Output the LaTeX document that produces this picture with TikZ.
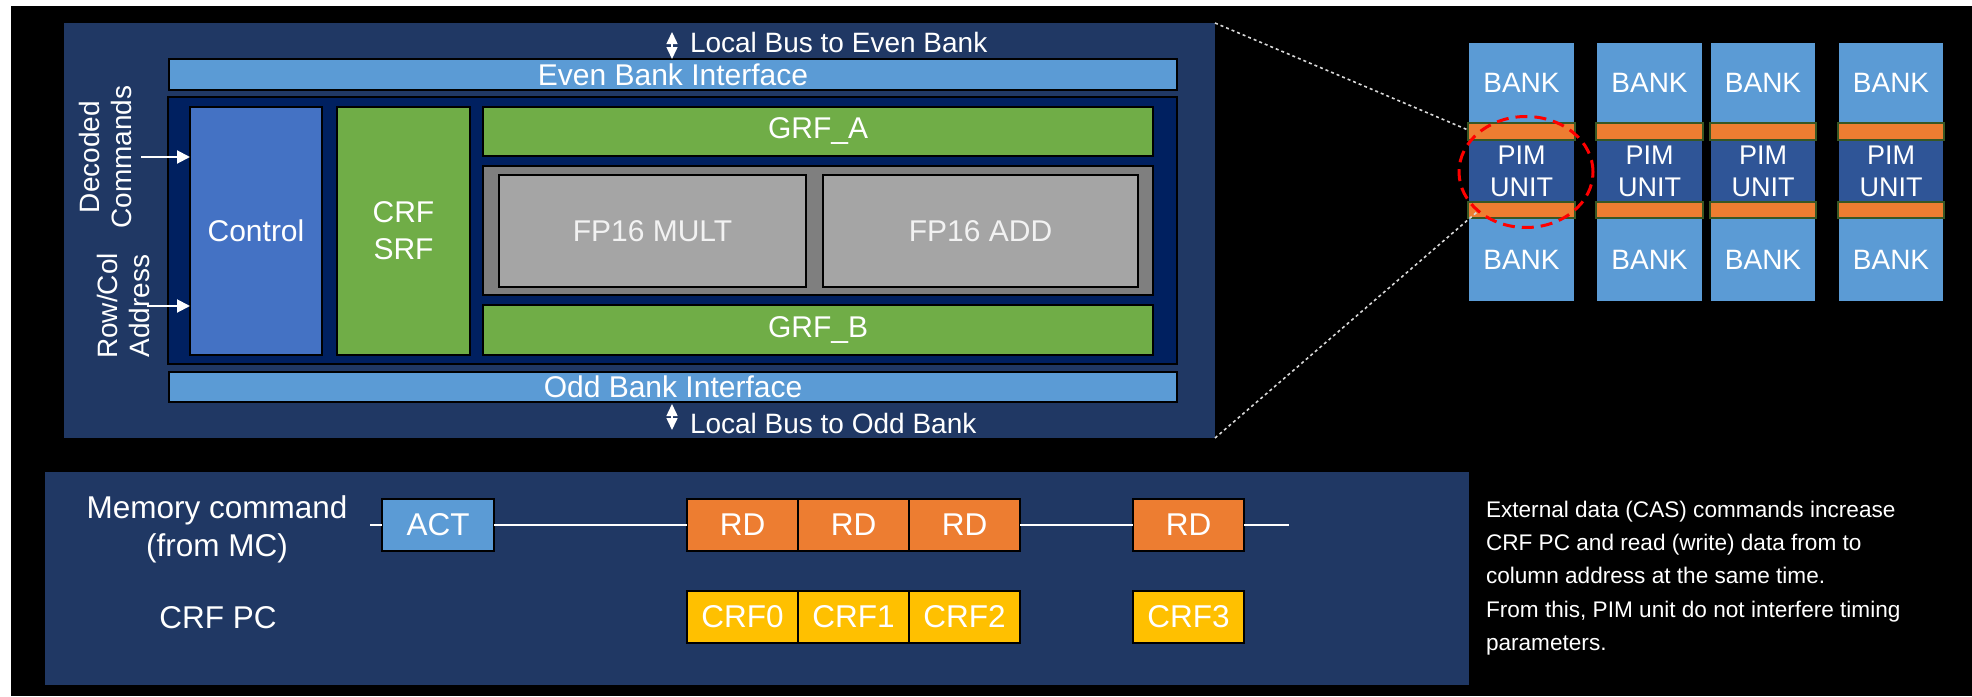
\documentclass[tikz,border=0pt]{standalone}
\usepackage{fontspec}
\setmainfont{Liberation Sans}
\usetikzlibrary{arrows.meta,shapes.geometric}
\definecolor{panel}{HTML}{203864}
\definecolor{navy}{HTML}{002060}
\definecolor{lblue}{HTML}{5B9BD5}
\definecolor{cblue}{HTML}{4472C4}
\definecolor{grn}{HTML}{70AD47}
\definecolor{gdark}{HTML}{7F7F7F}
\definecolor{glight}{HTML}{A5A5A5}
\definecolor{pimb}{HTML}{2F5597}
\definecolor{orng}{HTML}{ED7D31}
\definecolor{gold}{HTML}{FFC000}
\definecolor{dgrn}{HTML}{385723}
\definecolor{txtg}{HTML}{F2F2F2}
\newcommand\fsz[2]{\fontsize{#1}{#2}\selectfont}
\newcommand\bx[7]{\node[#6, minimum width={(#4)-(#2)}, minimum height={(#5)-(#3)}, anchor=north west] (#1) at (#2,#3) {#7};}
\begin{document}
\begin{tikzpicture}[x=1pt,y=-1pt,
  flat/.style={inner sep=0, outer sep=0, text=white, align=center},
  box/.style={draw=black, line width=2, inner sep=0, outer sep=0, text=white, align=center},
  lbl/.style={text=white, inner sep=0, outer sep=0, align=center},
  arr/.style={draw=white, line width=2, -{Triangle[width=13pt,length=13pt]}},
  darr/.style={draw=white, line width=1.5, {Triangle[width=11pt,length=12pt]}-{Triangle[width=11pt,length=12pt]}},
  tl/.style={draw=white, line width=2.5},
  dotl/.style={draw=white!85!black, line width=1.6, dash pattern=on 3pt off 3pt},
  fA/.style={font=\fsz{30}{36}},
  fB/.style={font=\fsz{31.5}{38}},
  fC/.style={font=\fsz{28}{32}},
  ]
\useasboundingbox (0,0) rectangle (1972,696);
\fill[white] (0,0) rectangle (1972,696);
\fill[black] (10.5,6) rectangle (1972,696);

% panels
\bx{top}{64}{23}{1215}{438}{flat, fill=panel}{}
\bx{bot}{45}{472}{1469}{685}{flat, fill=panel}{}

% top block
\bx{ebar}{169}{59}{1177}{90}{box, fill=lblue, fA}{Even Bank Interface}
\bx{inner}{168}{97}{1177}{364}{box, fill=navy}{}
\bx{ctrl}{190}{107}{322}{355}{box, fill=cblue, fA}{Control}
\bx{crf}{337}{107}{470}{355}{box, fill=grn, font=\fsz{30}{37}}{CRF\\SRF}
\bx{grfa}{483}{107}{1153}{156}{box, fill=grn, fA}{GRF\_A}
\bx{alu}{483}{166}{1153}{295}{box, fill=gdark}{}
\bx{mult}{499}{175}{806}{287}{box, fill=glight, text=txtg, fA}{FP16 MULT}
\bx{add}{823}{175}{1138}{287}{box, fill=glight, text=txtg, fA}{FP16 ADD}
\bx{grfb}{483}{305}{1153}{355}{box, fill=grn, fA}{GRF\_B}
\bx{obar}{169}{372}{1177}{402}{box, fill=lblue, fA}{Odd Bank Interface}

% local buses
\coordinate (e1) at (672,32); \coordinate (e2) at (672,59);
\draw[darr] (e1) -- (e2);
\node[lbl, anchor=base west, font=\fsz{28}{34}] (lbe) at (690,52) {Local Bus to Even Bank};
\coordinate (o1) at (672,404); \coordinate (o2) at (672,430);
\draw[darr] (o1) -- (o2);
\node[lbl, anchor=base west, font=\fsz{28}{34}] (lbo) at (690,433) {Local Bus to Odd Bank};

% side inputs
\node[lbl, rotate=90, font=\fsz{28}{32}] (dec) at (105,157) {Decoded\\Commands};
\node[lbl, rotate=90, font=\fsz{28}{32}] (rca) at (123,306) {Row/Col\\Address};
\coordinate (dca) at (141,157);
\draw[arr] (dca) -- (dca -| ctrl.west);
\coordinate (rcb) at (147,306);
\draw[arr] (rcb) -- (rcb -| ctrl.west);

% bottom timing
\node[lbl, fB] (memcmd) at (217,529) {Memory command\\(from MC)};
\node[lbl, fB] (crfpc) at (218,618) {CRF PC};
\bx{act}{382}{499}{494}{551}{box, fill=lblue, fB}{ACT}
\bx{rd1}{687}{499}{798}{551}{box, fill=orng, fB}{RD}
\bx{rd2}{798}{499}{909}{551}{box, fill=orng, fB}{RD}
\bx{rd3}{909}{499}{1020}{551}{box, fill=orng, fB}{RD}
\bx{rd4}{1133}{499}{1244}{551}{box, fill=orng, fB}{RD}
\bx{c0}{687}{591}{798}{643}{box, fill=gold, fB}{CRF0}
\bx{c1}{798}{591}{909}{643}{box, fill=gold, fB}{CRF1}
\bx{c2}{909}{591}{1020}{643}{box, fill=gold, fB}{CRF2}
\bx{c3}{1133}{591}{1244}{643}{box, fill=gold, fB}{CRF3}
\coordinate (ls) at (370,525); \coordinate (le) at (1289,525);
\draw[tl] (ls) -- (act.west);
\draw[tl] (act.east) -- (rd1.west);
\draw[tl] (rd3.east) -- (rd4.west);
\draw[tl] (rd4.east) -- (le);

% explanation
\node[lbl, anchor=base west, font=\fsz{22.6}{33}] (n1) at (1486,517) {External data (CAS) commands increase};
\node[lbl, anchor=base west, font=\fsz{22.6}{33}] (n2) at (1486,550) {CRF PC and read (write) data from to};
\node[lbl, anchor=base west, font=\fsz{22.6}{33}] (n3) at (1486,583.5) {column address at the same time.};
\node[lbl, anchor=base west, font=\fsz{22.6}{33}] (n4) at (1486,617) {From this, PIM unit do not interfere timing};
\node[lbl, anchor=base west, font=\fsz{22.6}{33}] (n5) at (1486,650) {parameters.};

% bank columns
\foreach \i/\xa/\xb in {1/1469/1574,2/1597/1702,3/1711/1815,4/1839/1943}{
  \bx{bt\i}{\xa}{43}{\xb}{123}{flat, fill=lblue, fC}{BANK}
  \bx{bb\i}{\xa}{218}{\xb}{301}{flat, fill=lblue, fC}{BANK}
  \bx{pu\i}{\xa}{140}{\xb}{202}{flat, fill=pimb, font=\fsz{27}{32}}{PIM\\UNIT}
  \bx{ot\i}{\xa-1}{123}{\xb+1}{140}{flat, fill=orng, draw=dgrn, line width=2}{}
  \bx{ob\i}{\xa-1}{202}{\xb+1}{218}{flat, fill=orng, draw=dgrn, line width=2}{}
}

% zoom lines
\coordinate (z1) at (1468,130); \coordinate (z2) at (1477,212);
\draw[dotl] (top.north east) -- (z1);
\draw[dotl] (top.south east) -- (z2);
\node[draw=red, line width=3, dash pattern=on 12pt off 7pt, ellipse, minimum width=134, minimum height=111, inner sep=0] (hl) at (1526,172) {};
\end{tikzpicture}
\end{document}
